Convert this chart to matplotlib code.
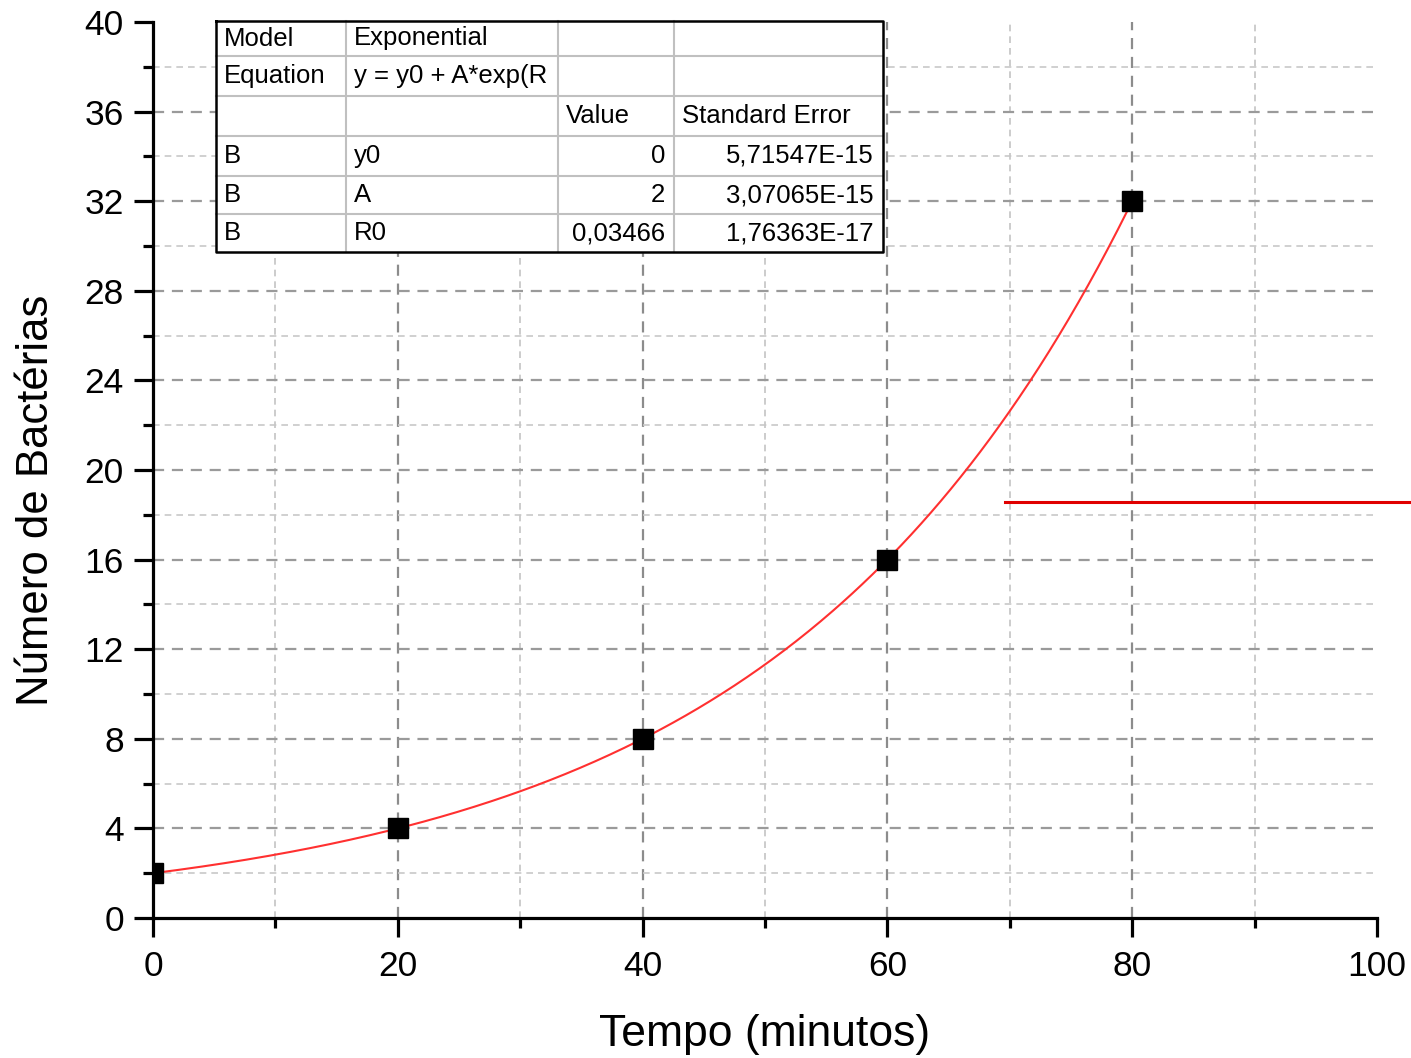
import matplotlib
matplotlib.use('Agg')
import matplotlib.pyplot as plt
from matplotlib.lines import Line2D
import numpy as np

plt.rcParams['font.family'] = ['Liberation Sans', 'DejaVu Sans']

# measured points
tempo = [0, 20, 40, 60, 80]
bacterias = [2, 4, 8, 16, 32]

# exponential fit y = y0 + A*exp(R0*x)
y0, A, R0 = 0.0, 2.0, 0.03466

fit_rows = [
    ['Model', 'Exponential', '', ''],
    ['Equation', 'y = y0 + A*exp(R', '', ''],
    ['', '', 'Value', 'Standard Error'],
    ['B', 'y0', '0', '5,71547E-15'],
    ['B', 'A', '2', '3,07065E-15'],
    ['B', 'R0', '0,03466', '1,76363E-17'],
]

fig = plt.figure(figsize=(14.11, 10.58), dpi=100)
ax = fig.add_axes([0.1084, 0.1323, 0.8675, 0.8469])

ax.set_xlim(0, 100)
ax.set_ylim(0, 40)
ax.set_xticks(np.arange(0, 101, 20))
ax.set_xticks(np.arange(10, 100, 20), minor=True)
ax.set_yticks(np.arange(0, 41, 4))
ax.set_yticks(np.arange(2, 40, 4), minor=True)

# interior grid only, major darker than minor
for v in np.arange(20, 100, 20):
    ax.axvline(v, color='#8c8c8c', lw=1.6, ls=(0, (5, 3.5)), zorder=0)
for v in np.arange(10, 100, 20):
    ax.axvline(v, color='#c4c4c4', lw=1.2, ls=(0, (4, 3)), zorder=0)
for v in np.arange(4, 40, 4):
    ax.axhline(v, color='#9a9a9a', lw=1.6, ls=(0, (5, 3.5)), zorder=0)
for v in np.arange(2, 40, 4):
    ax.axhline(v, color='#c8c8c8', lw=1.2, ls=(0, (4, 3)), zorder=0)

xf = np.linspace(0, 80, 400)
ax.plot(xf, y0 + A * np.exp(R0 * xf), color='#ff3030', lw=1.5, zorder=3)
ax.plot(tempo, bacterias, 's', color='black', ms=14, zorder=4)

for s in ['top', 'right']:
    ax.spines[s].set_visible(False)
for s in ['left', 'bottom']:
    ax.spines[s].set_linewidth(2.3)
    ax.spines[s].set_zorder(5)

ax.tick_params(which='major', direction='out', length=14, width=2.3, labelsize=25.5)
ax.tick_params(which='minor', direction='out', length=7.5, width=2.3)
ax.tick_params(axis='y', which='major', pad=7)
ax.tick_params(axis='x', which='major', pad=9)

ax.set_xlabel('Tempo (minutos)', fontsize=32, labelpad=22)
ax.set_ylabel('Número de Bactérias', fontsize=31.5)
ax.yaxis.set_label_coords(-0.078, 0.466)

# stray legend line running off the right edge
fig.add_artist(Line2D([1005 / 1411, 1.0], [1 - 502 / 1058] * 2, color='#e00000', lw=2.2))

# fit results table
col_edges = [216, 346, 558, 674, 883]
row_edges = [21, 56, 96, 136, 176, 214, 252]
W, H = 1411, 1058
tab = fig.add_axes([0, 0, 1, 1], facecolor='none')
tab.set_xlim(0, W)
tab.set_ylim(H, 0)
tab.axis('off')
tab.fill_between([col_edges[0], col_edges[-1]], row_edges[0], row_edges[-1], color='white', zorder=1)
for yy in row_edges[1:-1]:
    tab.plot([col_edges[0], col_edges[-1]], [yy, yy], color='#c0c0c0', lw=1.5, zorder=2)
for xx in col_edges[1:-1]:
    tab.plot([xx, xx], [row_edges[0], row_edges[-1]], color='#c0c0c0', lw=1.5, zorder=2)
tab.plot([col_edges[0], col_edges[-1], col_edges[-1], col_edges[0], col_edges[0]],
         [row_edges[0], row_edges[0], row_edges[-1], row_edges[-1], row_edges[0]],
         color='black', lw=1.8, zorder=3)
for r, row in enumerate(fit_rows):
    yc = (row_edges[r] + row_edges[r + 1]) / 2
    for c, txt in enumerate(row):
        if not txt:
            continue
        if r >= 3 and c >= 2:
            tab.text(col_edges[c + 1] - 9, yc, txt, ha='right', va='center', fontsize=18.5, zorder=4)
        else:
            tab.text(col_edges[c] + 8, yc, txt, ha='left', va='center', fontsize=18.5, zorder=4)

fig.savefig('out.png', dpi=100)
